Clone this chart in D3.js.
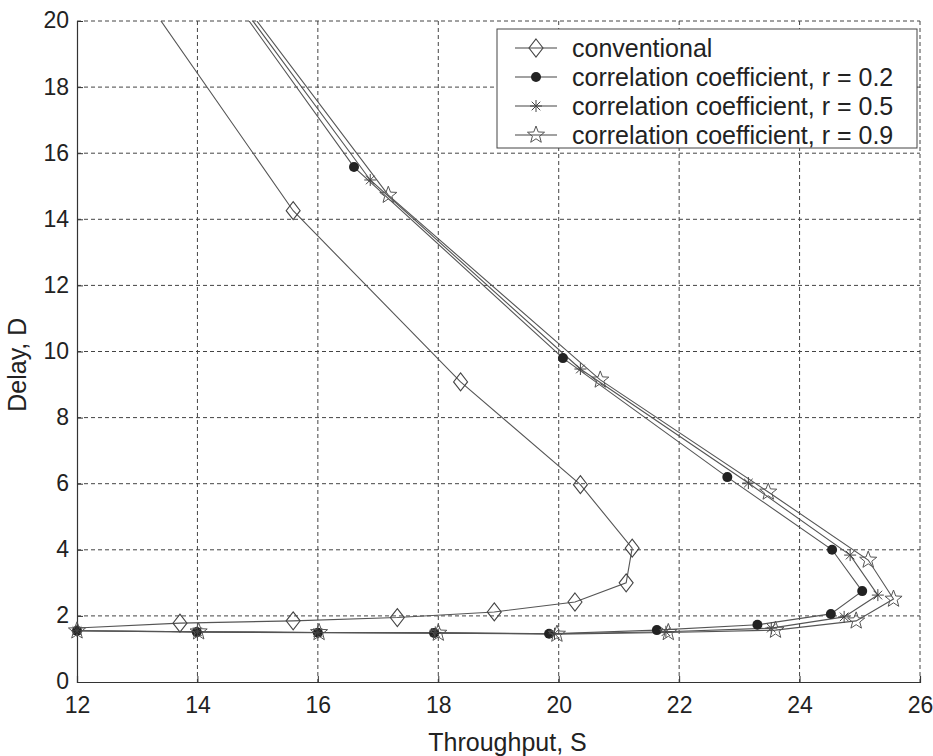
<!DOCTYPE html>
<html>
<head>
<meta charset="utf-8">
<title>Delay vs Throughput</title>
<style>
  body { margin: 0; background: #fff; }
  text { font-family: "Liberation Sans", Arial, sans-serif; fill: #222; }
  .grid line { stroke: #444; stroke-dasharray: 4,3; stroke-width: 1; }
  .curve { fill: none; stroke: #555; stroke-width: 1.1; }
</style>
</head>
<body>
<svg width="933" height="756"></svg>
<script src="https://d3js.org/d3.v7.min.js"></script>
<script>
// values (throughput S, delay D)
var convS = [11.85, 13.71, 15.59, 17.32, 18.93, 20.27, 21.12, 21.22, 20.36, 18.37, 15.59, 12.63];
var convD = [1.62, 1.78, 1.85, 1.95, 2.12, 2.42, 3.0, 4.05, 5.97, 9.08, 14.26, 22];

var r2S = [12, 13.99, 16.0, 17.93, 19.84, 21.63, 23.3, 24.52, 25.04, 24.54, 22.8, 20.07, 16.6, 14.07];
var r2D = [1.55, 1.51, 1.49, 1.48, 1.46, 1.57, 1.73, 2.06, 2.75, 4.0, 6.2, 9.8, 15.58, 22];

var r5S = [12, 14.0, 16.0, 17.95, 19.93, 21.78, 23.53, 24.74, 25.3, 24.84, 23.15, 20.36, 16.87, 14.11];
var r5D = [1.55, 1.52, 1.5, 1.5, 1.46, 1.52, 1.63, 1.97, 2.63, 3.84, 6.02, 9.47, 15.19, 22];

var r9S = [12, 14.02, 16.02, 18.0, 19.97, 21.82, 23.6, 24.94, 25.56, 25.14, 23.48, 20.69, 17.17, 14.16];
var r9D = [1.55, 1.52, 1.5, 1.48, 1.45, 1.5, 1.57, 1.85, 2.51, 3.69, 5.75, 9.14, 14.73, 22];

var xTicks = [12, 14, 16, 18, 20, 22, 24, 26];
var yTicks = [0, 2, 4, 6, 8, 10, 12, 14, 16, 18, 20];
var legendLabels = ["conventional", "correlation coefficient, r = 0.2",
                    "correlation coefficient, r = 0.5", "correlation coefficient, r = 0.9"];
var markers = ["diamond", "dot", "asterisk", "star"];

var svg = d3.select("svg");
var margin = {left: 77, top: 21, right: 13, bottom: 74};
var width = 933 - margin.left - margin.right,
    height = 756 - margin.top - margin.bottom;

var x = d3.scaleLinear().domain([12, 26]).range([0, width]);
var y = d3.scaleLinear().domain([0, 20]).range([height, 0]);

var g = svg.append("g").attr("transform", "translate(" + margin.left + "," + margin.top + ")");

g.append("clipPath").attr("id", "clip")
  .append("rect").attr("width", width).attr("height", height);

// grid
g.append("g").attr("class", "grid")
  .selectAll("line").data(xTicks.slice(1)).enter().append("line")
    .attr("x1", d => x(d)).attr("x2", d => x(d))
    .attr("y1", 0).attr("y2", height);
g.append("g").attr("class", "grid")
  .selectAll("line").data(yTicks.slice(1)).enter().append("line")
    .attr("x1", 0).attr("x2", width)
    .attr("y1", d => y(d)).attr("y2", d => y(d));

// axes (ticks drawn inward like matlab)
var xAxis = d3.axisBottom(x).tickValues(xTicks).tickSize(-6).tickPadding(15);
var yAxis = d3.axisLeft(y).tickValues(yTicks).tickSize(-6).tickPadding(8);
var gx = g.append("g").attr("transform", "translate(0," + height + ")").call(xAxis);
var gy = g.append("g").call(yAxis);
[gx, gy].forEach(function(a) {
  a.select(".domain").attr("stroke", "#333").attr("stroke-width", 1.2);
  a.selectAll(".tick line").attr("stroke", "#333");
  a.selectAll(".tick text").style("font-size", "23px").attr("fill", "#222");
});
gx.selectAll(".tick text").attr("dy", "0.71em");
gy.selectAll(".tick text").attr("dy", "0.3em");

// labels
svg.append("text").attr("x", margin.left + x(19.15)).attr("y", 751)
  .attr("text-anchor", "middle").style("font-size", "25px").text("Throughput, S");
svg.append("text").attr("transform", "translate(26," + (margin.top + y(9.6)) + ") rotate(-90)")
  .attr("text-anchor", "middle").style("font-size", "25px").text("Delay, D");

// marker drawing
function starPath(r) {
  var pts = [];
  for (var i = 0; i < 10; i++) {
    var rr = i % 2 === 0 ? r : r * 0.42;
    var a = -Math.PI / 2 + i * Math.PI / 5;
    pts.push([rr * Math.cos(a), rr * Math.sin(a)]);
  }
  return "M" + pts.map(p => p.join(",")).join("L") + "Z";
}
function drawMarker(sel, type) {
  if (type === "diamond") {
    sel.append("path").attr("d", "M0,-9L7,0L0,9L-7,0Z")
      .attr("fill", "none").attr("stroke", "#444").attr("stroke-width", 1.1);
  } else if (type === "dot") {
    sel.append("circle").attr("r", 5).attr("fill", "#222");
  } else if (type === "asterisk") {
    var s = 6;
    sel.append("path")
      .attr("d", "M-" + s + ",0L" + s + ",0M0,-" + s + "L0," + s +
        "M-4.3,-4.3L4.3,4.3M-4.3,4.3L4.3,-4.3")
      .attr("stroke", "#444").attr("stroke-width", 1);
  } else {
    sel.append("path").attr("d", starPath(9))
      .attr("fill", "none").attr("stroke", "#555").attr("stroke-width", 1);
  }
}

var series = [
  {s: convS, d: convD, m: markers[0]},
  {s: r2S, d: r2D, m: markers[1]},
  {s: r5S, d: r5D, m: markers[2]},
  {s: r9S, d: r9D, m: markers[3]}
];

var line = d3.line().x(p => x(p[0])).y(p => y(p[1]));
var plot = g.append("g").attr("clip-path", "url(#clip)");

series.forEach(function(ser) {
  var pts = ser.s.map((v, i) => [v, ser.d[i]]);
  plot.append("path").attr("class", "curve").attr("d", line(pts));
});
series.forEach(function(ser) {
  var pts = ser.s.map((v, i) => [v, ser.d[i]])
    .filter(p => p[0] >= 12 && p[0] <= 26 && p[1] >= 0 && p[1] <= 20);
  pts.forEach(function(p) {
    var mg = g.append("g").attr("transform", "translate(" + x(p[0]) + "," + y(p[1]) + ")");
    drawMarker(mg, ser.m);
  });
});

// legend
var lg = svg.append("g").attr("transform", "translate(497,29)");
lg.append("rect").attr("width", 420).attr("height", 119)
  .attr("fill", "#fff").attr("stroke", "#444").attr("stroke-width", 1);
legendLabels.forEach(function(lab, i) {
  var row = lg.append("g").attr("transform", "translate(0," + (19 + i * 29) + ")");
  row.append("line").attr("x1", 18).attr("x2", 60).attr("stroke", "#444").attr("stroke-width", 1.1);
  var mg = row.append("g").attr("transform", "translate(39,0)");
  drawMarker(mg, markers[i]);
  row.append("text").attr("x", 75).attr("dy", "0.35em").style("font-size", "25px").text(lab);
});
</script>
</body>
</html>
